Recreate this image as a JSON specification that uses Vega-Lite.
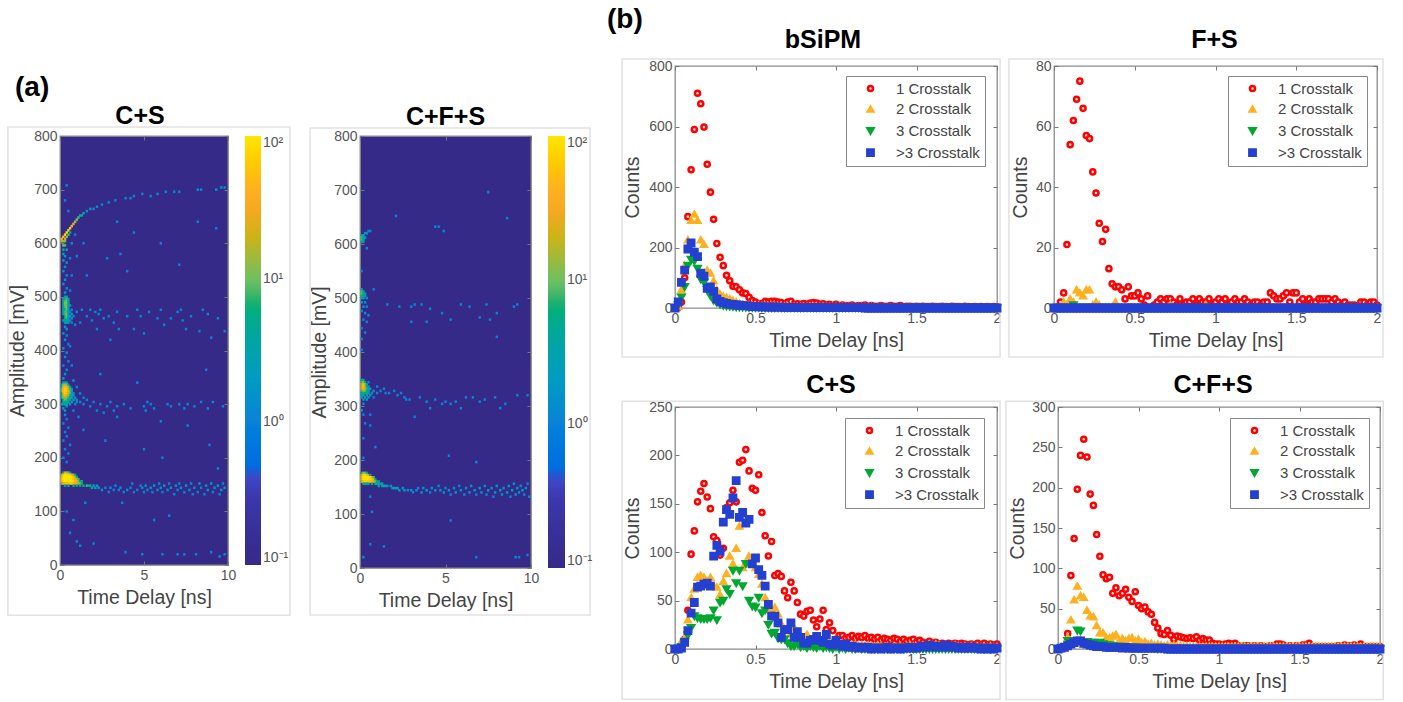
{"$schema":"https://vega.github.io/schema/vega-lite/v6.json","background":"white","padding":{"left":6,"top":6,"right":0,"bottom":0},
"config":{"font":"Liberation Sans","view":{"stroke":"#8a8a8a","strokeWidth":1.3},"axis":{"grid":false,"domain":false,"labelFlush":false,"tickColor":"#777","tickSize":-4,"labelFont":"Liberation Sans","labelFontSize":14,"labelColor":"#555","labelPadding":7,"titleFont":"Liberation Sans","titleFontSize":19.5,"titleFontWeight":"normal","titleColor":"#444","titlePadding":6},"title":{"font":"Liberation Sans","fontSize":25,"fontWeight":"bold","color":"#000"},"legend":{"labelFont":"Liberation Sans","labelFontSize":15,"labelColor":"#444","symbolStrokeWidth":2.5}},
"datasets":{
"a1":[
{"t":0.2,"a":172,"n":5},{"t":0.3,"a":172,"n":20},{"t":0.4,"a":172,"n":20},{"t":0.5,"a":172,"n":10},{"t":0.6,"a":172,"n":3},
{"t":0.1,"a":168,"n":10},{"t":0.2,"a":168,"n":60},{"t":0.3,"a":168,"n":90},{"t":0.4,"a":168,"n":90},{"t":0.5,"a":168,"n":80},{"t":0.6,"a":168,"n":60},{"t":0.7,"a":168,"n":40},{"t":0.8,"a":168,"n":15},{"t":0.9,"a":168,"n":5},
{"t":0.1,"a":164,"n":30},{"t":0.2,"a":164,"n":90},{"t":0.3,"a":164,"n":100},{"t":0.4,"a":164,"n":100},{"t":0.5,"a":164,"n":100},{"t":0.6,"a":164,"n":100},{"t":0.7,"a":164,"n":90},{"t":0.8,"a":164,"n":50},{"t":0.9,"a":164,"n":20},{"t":1.0,"a":164,"n":6},
{"t":0.1,"a":160,"n":40},{"t":0.2,"a":160,"n":90},{"t":0.3,"a":160,"n":100},{"t":0.4,"a":160,"n":100},{"t":0.5,"a":160,"n":100},{"t":0.6,"a":160,"n":100},{"t":0.7,"a":160,"n":90},{"t":0.8,"a":160,"n":70},{"t":0.9,"a":160,"n":40},{"t":1.0,"a":160,"n":20},{"t":1.1,"a":160,"n":8},
{"t":0.1,"a":156,"n":30},{"t":0.2,"a":156,"n":80},{"t":0.3,"a":156,"n":100},{"t":0.4,"a":156,"n":100},{"t":0.5,"a":156,"n":100},{"t":0.6,"a":156,"n":100},{"t":0.7,"a":156,"n":90},{"t":0.8,"a":156,"n":80},{"t":0.9,"a":156,"n":50},{"t":1.0,"a":156,"n":30},{"t":1.1,"a":156,"n":15},{"t":1.2,"a":156,"n":6},{"t":1.3,"a":156,"n":3},
{"t":0.1,"a":152,"n":10},{"t":0.2,"a":152,"n":30},{"t":0.3,"a":152,"n":40},{"t":0.4,"a":152,"n":50},{"t":0.5,"a":152,"n":50},{"t":0.6,"a":152,"n":60},{"t":0.7,"a":152,"n":60},{"t":0.8,"a":152,"n":50},{"t":0.9,"a":152,"n":30},{"t":1.0,"a":152,"n":25},{"t":1.1,"a":152,"n":15},{"t":1.2,"a":152,"n":10},{"t":1.3,"a":152,"n":6},
{"t":0.3,"a":148,"n":5},{"t":0.5,"a":148,"n":5},{"t":0.8,"a":148,"n":5},{"t":1.0,"a":148,"n":6},{"t":1.2,"a":148,"n":6},{"t":1.4,"a":148,"n":5},{"t":1.6,"a":148,"n":8},{"t":1.7,"a":148,"n":6},{"t":1.8,"a":148,"n":5},{"t":2.0,"a":148,"n":3},{"t":1.9,"a":144,"n":4},{"t":2.1,"a":144,"n":3},{"t":2.3,"a":144,"n":2},{"t":2.2,"a":148,"n":2},
{"t":2.5,"a":140,"n":1.5},{"t":2.7,"a":144,"n":1},{"t":2.9,"a":136,"n":1},{"t":3.0,"a":144,"n":1.5},{"t":3.2,"a":140,"n":1.2},{"t":3.3,"a":148,"n":1},{"t":3.5,"a":140,"n":1},{"t":3.6,"a":144,"n":1.5},{"t":3.8,"a":136,"n":1},{"t":4.0,"a":140,"n":1.5},{"t":4.2,"a":144,"n":1},{"t":4.3,"a":152,"n":1},{"t":4.4,"a":136,"n":1},{"t":4.6,"a":140,"n":1},{"t":4.8,"a":148,"n":1},{"t":4.9,"a":144,"n":1.5},{"t":5.0,"a":136,"n":1},{"t":5.1,"a":148,"n":1.5},{"t":5.2,"a":140,"n":1},{"t":5.4,"a":144,"n":1.5},{"t":5.5,"a":136,"n":1},{"t":5.6,"a":148,"n":1.5},{"t":5.8,"a":140,"n":1.5},{"t":5.9,"a":152,"n":1},{"t":6.0,"a":144,"n":1.5},{"t":6.1,"a":136,"n":1},{"t":6.2,"a":148,"n":1.5},{"t":6.4,"a":140,"n":1.5},{"t":6.5,"a":152,"n":1},{"t":6.6,"a":144,"n":1.5},{"t":6.8,"a":132,"n":1},{"t":6.9,"a":148,"n":1.5},{"t":7.0,"a":140,"n":1},{"t":7.1,"a":152,"n":1},{"t":7.2,"a":144,"n":1.5},{"t":7.4,"a":136,"n":1},{"t":7.5,"a":148,"n":1.5},{"t":7.7,"a":140,"n":1.5},{"t":7.8,"a":152,"n":1},{"t":7.9,"a":132,"n":1},{"t":8.0,"a":144,"n":1.5},{"t":8.2,"a":136,"n":1},{"t":8.3,"a":152,"n":1.5},{"t":8.4,"a":144,"n":1},{"t":8.6,"a":132,"n":1},{"t":8.7,"a":148,"n":1.5},{"t":8.8,"a":140,"n":1.5},{"t":9.0,"a":152,"n":1.5},{"t":9.1,"a":136,"n":1},{"t":9.2,"a":144,"n":1.5},{"t":9.4,"a":148,"n":1.5},{"t":9.5,"a":132,"n":1},{"t":9.6,"a":140,"n":1.5},{"t":9.7,"a":152,"n":1},{"t":9.8,"a":144,"n":1.5},
{"t":0.2,"a":340,"n":2},{"t":0.3,"a":340,"n":4},{"t":0.4,"a":340,"n":3},{"t":0.1,"a":336,"n":3},{"t":0.2,"a":336,"n":10},{"t":0.3,"a":336,"n":15},{"t":0.4,"a":336,"n":12},{"t":0.5,"a":336,"n":4},
{"t":0.1,"a":332,"n":5},{"t":0.2,"a":332,"n":30},{"t":0.3,"a":332,"n":45},{"t":0.4,"a":332,"n":40},{"t":0.5,"a":332,"n":15},{"t":0.6,"a":332,"n":4},{"t":0.1,"a":328,"n":8},{"t":0.2,"a":328,"n":40},{"t":0.3,"a":328,"n":70},{"t":0.4,"a":328,"n":60},{"t":0.5,"a":328,"n":30},{"t":0.6,"a":328,"n":8},{"t":0.7,"a":328,"n":3},
{"t":0.1,"a":324,"n":8},{"t":0.2,"a":324,"n":50},{"t":0.3,"a":324,"n":80},{"t":0.4,"a":324,"n":70},{"t":0.5,"a":324,"n":35},{"t":0.6,"a":324,"n":10},{"t":0.7,"a":324,"n":4},{"t":0.1,"a":320,"n":6},{"t":0.2,"a":320,"n":40},{"t":0.3,"a":320,"n":70},{"t":0.4,"a":320,"n":60},{"t":0.5,"a":320,"n":25},{"t":0.6,"a":320,"n":10},{"t":0.7,"a":320,"n":4},{"t":0.8,"a":320,"n":2},
{"t":0.1,"a":316,"n":5},{"t":0.2,"a":316,"n":25},{"t":0.3,"a":316,"n":40},{"t":0.4,"a":316,"n":30},{"t":0.5,"a":316,"n":15},{"t":0.6,"a":316,"n":7},{"t":0.7,"a":316,"n":4},{"t":0.8,"a":316,"n":2},{"t":0.1,"a":312,"n":3},{"t":0.2,"a":312,"n":12},{"t":0.3,"a":312,"n":15},{"t":0.4,"a":312,"n":14},{"t":0.5,"a":312,"n":8},{"t":0.6,"a":312,"n":5},{"t":0.7,"a":312,"n":3},{"t":0.9,"a":312,"n":1.5},
{"t":0.2,"a":308,"n":6},{"t":0.3,"a":308,"n":10},{"t":0.4,"a":308,"n":8},{"t":0.5,"a":308,"n":5},{"t":0.6,"a":308,"n":4},{"t":0.8,"a":308,"n":2},{"t":1.0,"a":308,"n":1.5},{"t":0.2,"a":304,"n":4},{"t":0.3,"a":304,"n":5},{"t":0.4,"a":304,"n":6},{"t":0.5,"a":304,"n":3},{"t":0.7,"a":304,"n":2},{"t":1.0,"a":304,"n":1.2},{"t":1.2,"a":304,"n":1},{"t":0.1,"a":300,"n":1.5},{"t":0.2,"a":300,"n":3},{"t":0.3,"a":300,"n":4},{"t":0.4,"a":300,"n":4},{"t":0.6,"a":300,"n":1.5},{"t":0.9,"a":300,"n":1},{"t":1.4,"a":300,"n":1},
{"t":0.2,"a":292,"n":2},{"t":0.3,"a":288,"n":2},{"t":0.4,"a":296,"n":2},{"t":0.3,"a":280,"n":1.5},{"t":0.4,"a":272,"n":1},{"t":0.2,"a":264,"n":1},{"t":0.5,"a":256,"n":1},{"t":0.3,"a":248,"n":1},{"t":0.4,"a":240,"n":1},{"t":0.2,"a":232,"n":1},{"t":0.6,"a":224,"n":1},{"t":0.3,"a":216,"n":1},{"t":0.5,"a":208,"n":1},{"t":0.2,"a":200,"n":1},{"t":0.4,"a":192,"n":1},
{"t":1.6,"a":308,"n":1},{"t":1.8,"a":296,"n":1},{"t":2.0,"a":304,"n":1},{"t":2.2,"a":288,"n":1},{"t":2.4,"a":300,"n":1},{"t":2.6,"a":284,"n":1},{"t":2.8,"a":296,"n":1},{"t":3.0,"a":304,"n":1},{"t":3.2,"a":288,"n":1},{"t":3.4,"a":296,"n":1},{"t":3.8,"a":300,"n":1.2},{"t":4.2,"a":292,"n":1},{"t":5.0,"a":296,"n":1.2},{"t":5.1,"a":288,"n":1},{"t":5.2,"a":304,"n":1},{"t":5.4,"a":300,"n":1.2},{"t":5.6,"a":292,"n":1},{"t":6.4,"a":300,"n":1},{"t":6.6,"a":296,"n":1},{"t":7.1,"a":300,"n":1},{"t":7.4,"a":292,"n":1},{"t":7.6,"a":300,"n":1},{"t":8.0,"a":296,"n":1},{"t":8.4,"a":304,"n":1},{"t":8.8,"a":292,"n":1},{"t":9.1,"a":304,"n":1},{"t":9.7,"a":296,"n":1},
{"t":0.3,"a":500,"n":3},{"t":0.4,"a":500,"n":4},{"t":0.2,"a":496,"n":2},{"t":0.3,"a":496,"n":6},{"t":0.4,"a":496,"n":8},{"t":0.5,"a":496,"n":3},{"t":0.2,"a":492,"n":4},{"t":0.3,"a":492,"n":8},{"t":0.4,"a":492,"n":10},{"t":0.5,"a":492,"n":4},{"t":0.2,"a":488,"n":5},{"t":0.3,"a":488,"n":10},{"t":0.4,"a":488,"n":12},{"t":0.5,"a":488,"n":4},{"t":0.2,"a":484,"n":4},{"t":0.3,"a":484,"n":10},{"t":0.4,"a":484,"n":10},{"t":0.5,"a":484,"n":5},{"t":0.6,"a":484,"n":1.5},{"t":0.2,"a":480,"n":4},{"t":0.3,"a":480,"n":8},{"t":0.4,"a":480,"n":12},{"t":0.5,"a":480,"n":4},{"t":0.2,"a":476,"n":3},{"t":0.3,"a":476,"n":6},{"t":0.4,"a":476,"n":10},{"t":0.5,"a":476,"n":3},{"t":0.7,"a":476,"n":1},{"t":0.2,"a":472,"n":4},{"t":0.3,"a":472,"n":8},{"t":0.4,"a":472,"n":8},{"t":0.5,"a":472,"n":4},{"t":0.6,"a":472,"n":1.2},{"t":0.2,"a":468,"n":4},{"t":0.3,"a":468,"n":8},{"t":0.4,"a":468,"n":10},{"t":0.5,"a":468,"n":3},{"t":0.7,"a":468,"n":1.5},{"t":0.3,"a":464,"n":6},{"t":0.4,"a":464,"n":10},{"t":0.5,"a":464,"n":3},{"t":0.6,"a":464,"n":2},{"t":0.8,"a":464,"n":1},{"t":0.3,"a":460,"n":6},{"t":0.4,"a":460,"n":8},{"t":0.5,"a":460,"n":3},{"t":0.7,"a":460,"n":1.5},{"t":0.2,"a":456,"n":2},{"t":0.3,"a":456,"n":5},{"t":0.4,"a":456,"n":6},{"t":0.5,"a":456,"n":3},{"t":0.6,"a":456,"n":1.5},{"t":0.3,"a":452,"n":3},{"t":0.4,"a":452,"n":4},{"t":0.5,"a":452,"n":2},{"t":0.7,"a":452,"n":1},{"t":0.3,"a":444,"n":2},{"t":0.4,"a":440,"n":2},{"t":0.2,"a":432,"n":1.5},{"t":0.4,"a":428,"n":1.5},{"t":0.3,"a":420,"n":1.5},{"t":0.5,"a":412,"n":1},{"t":0.2,"a":404,"n":1.5},{"t":0.4,"a":396,"n":1.5},{"t":0.3,"a":388,"n":1.5},{"t":0.5,"a":380,"n":1},{"t":0.2,"a":372,"n":1},{"t":0.4,"a":364,"n":1.5},{"t":0.3,"a":356,"n":2},{"t":0.2,"a":348,"n":2},
{"t":1.0,"a":472,"n":1},{"t":1.3,"a":476,"n":1},{"t":1.6,"a":464,"n":1},{"t":1.9,"a":456,"n":1},{"t":2.1,"a":472,"n":1},{"t":2.3,"a":468,"n":1},{"t":2.6,"a":460,"n":1},{"t":2.9,"a":464,"n":1},{"t":3.2,"a":452,"n":1},{"t":3.4,"a":472,"n":1},{"t":4.0,"a":464,"n":1},{"t":4.4,"a":440,"n":1},{"t":4.8,"a":464,"n":1},{"t":5.3,"a":472,"n":1},{"t":5.8,"a":460,"n":1},{"t":6.2,"a":448,"n":1},{"t":6.6,"a":460,"n":1},{"t":7.0,"a":472,"n":1},{"t":7.3,"a":456,"n":1},{"t":7.8,"a":464,"n":1},{"t":8.3,"a":436,"n":1},{"t":8.8,"a":468,"n":1},{"t":9.4,"a":460,"n":1},{"t":9.8,"a":436,"n":1},
{"t":0.2,"a":596,"n":10},{"t":0.3,"a":596,"n":8},{"t":0.2,"a":588,"n":5},{"t":0.4,"a":588,"n":3},{"t":0.2,"a":580,"n":3},{"t":0.3,"a":576,"n":2},{"t":0.2,"a":568,"n":2},{"t":0.4,"a":564,"n":2},{"t":0.3,"a":556,"n":1.5},{"t":0.2,"a":548,"n":1.5},{"t":0.4,"a":540,"n":1.5},{"t":0.3,"a":532,"n":1.5},{"t":0.2,"a":524,"n":1.5},{"t":0.4,"a":516,"n":1.5},{"t":0.3,"a":508,"n":2},{"t":1.0,"a":576,"n":1},{"t":1.4,"a":600,"n":1},{"t":1.6,"a":540,"n":1},{"t":2.8,"a":572,"n":1},{"t":3.6,"a":580,"n":1},{"t":4.0,"a":548,"n":1},{"t":4.4,"a":620,"n":1},{"t":6.0,"a":600,"n":1},{"t":7.1,"a":560,"n":1},{"t":8.2,"a":640,"n":1},{"t":9.3,"a":628,"n":1},{"t":3.4,"a":640,"n":1},{"t":0.3,"a":680,"n":1},{"t":0.4,"a":708,"n":1},{"t":0.5,"a":660,"n":1},
{"t":0.1,"a":608,"n":40},{"t":0.2,"a":612,"n":60},{"t":0.1,"a":604,"n":15},{"t":0.2,"a":604,"n":15},{"t":0.3,"a":604,"n":10},{"t":0.3,"a":616,"n":80},{"t":0.4,"a":620,"n":90},{"t":0.5,"a":624,"n":80},{"t":0.6,"a":628,"n":70},{"t":0.3,"a":608,"n":20},{"t":0.4,"a":612,"n":12},{"t":0.5,"a":616,"n":8},{"t":0.7,"a":632,"n":40},{"t":0.8,"a":636,"n":25},{"t":0.6,"a":620,"n":5},{"t":0.9,"a":640,"n":15},{"t":1.0,"a":644,"n":10},{"t":1.1,"a":648,"n":8},{"t":1.2,"a":652,"n":5},{"t":1.3,"a":652,"n":4},{"t":1.4,"a":656,"n":3},{"t":1.6,"a":660,"n":2},{"t":1.8,"a":664,"n":2},{"t":2.0,"a":664,"n":1.5},{"t":2.2,"a":668,"n":1.5},{"t":2.5,"a":672,"n":1},{"t":2.9,"a":676,"n":1.2},{"t":3.3,"a":680,"n":1},{"t":3.9,"a":684,"n":1},{"t":4.2,"a":684,"n":1},{"t":4.4,"a":688,"n":1},{"t":4.9,"a":692,"n":1.2},{"t":5.4,"a":688,"n":1},{"t":5.8,"a":692,"n":1.2},{"t":6.3,"a":696,"n":1.2},{"t":6.8,"a":696,"n":1},{"t":7.1,"a":696,"n":1},{"t":8.2,"a":700,"n":1.5},{"t":8.4,"a":700,"n":1.2},{"t":9.3,"a":700,"n":1.5},{"t":9.6,"a":704,"n":1.5},{"t":9.8,"a":704,"n":1.2},
{"t":0.6,"a":60,"n":1},{"t":0.8,"a":84,"n":1},{"t":1.0,"a":44,"n":1},{"t":1.2,"a":36,"n":1},{"t":0.4,"a":100,"n":1},{"t":2.0,"a":40,"n":1},{"t":3.9,"a":24,"n":1},{"t":4.9,"a":20,"n":1},{"t":6.1,"a":20,"n":1},{"t":7.0,"a":20,"n":1},{"t":7.4,"a":20,"n":1},{"t":8.1,"a":20,"n":1},{"t":9.0,"a":24,"n":1},{"t":9.5,"a":16,"n":1},{"t":9.8,"a":20,"n":1},{"t":5.6,"a":84,"n":1},{"t":6.5,"a":92,"n":1},{"t":1.5,"a":116,"n":1},{"t":3.7,"a":116,"n":1},{"t":5.0,"a":216,"n":1},{"t":6.1,"a":200,"n":1},{"t":8.9,"a":224,"n":1},
{"t":0.6,"a":512,"n":1},{"t":0.7,"a":540,"n":1},{"t":0.6,"a":572,"n":1},{"t":0.7,"a":600,"n":1.5},{"t":0.9,"a":616,"n":1},{"t":0.6,"a":408,"n":1},{"t":0.7,"a":372,"n":1},{"t":0.8,"a":344,"n":1.5},{"t":1.0,"a":332,"n":1},{"t":1.2,"a":320,"n":1.2},{"t":1.4,"a":312,"n":1},{"t":0.8,"a":288,"n":1},{"t":1.1,"a":276,"n":1},{"t":1.4,"a":252,"n":1},{"t":0.9,"a":448,"n":1},{"t":1.2,"a":452,"n":1},{"t":1.8,"a":476,"n":1},{"t":2.2,"a":440,"n":1},{"t":2.4,"a":476,"n":1},{"t":3.0,"a":420,"n":1},{"t":3.5,"a":440,"n":1},{"t":4.6,"a":476,"n":1},{"t":5.0,"a":432,"n":1},{"t":6.0,"a":476,"n":1},{"t":7.2,"a":476,"n":1},{"t":7.5,"a":440,"n":1},{"t":8.5,"a":476,"n":1},{"t":9.0,"a":424,"n":1},{"t":2.4,"a":356,"n":1},{"t":4.6,"a":340,"n":1},{"t":8.7,"a":364,"n":1},{"t":6.0,"a":268,"n":1},{"t":7.6,"a":260,"n":1},{"t":3.4,"a":276,"n":1},{"t":2.7,"a":232,"n":1},{"t":9.4,"a":180,"n":1}
],
"a2":[
{"t":0.1,"a":176,"n":5},{"t":0.2,"a":176,"n":12},{"t":0.3,"a":176,"n":10},{"t":0.4,"a":176,"n":4},
{"t":0.1,"a":172,"n":15},{"t":0.2,"a":172,"n":70},{"t":0.3,"a":172,"n":80},{"t":0.4,"a":172,"n":60},{"t":0.5,"a":172,"n":25},{"t":0.6,"a":172,"n":6},
{"t":0.1,"a":168,"n":30},{"t":0.2,"a":168,"n":100},{"t":0.3,"a":168,"n":100},{"t":0.4,"a":168,"n":100},{"t":0.5,"a":168,"n":90},{"t":0.6,"a":168,"n":80},{"t":0.7,"a":168,"n":40},{"t":0.8,"a":168,"n":8},
{"t":0.1,"a":164,"n":30},{"t":0.2,"a":164,"n":100},{"t":0.3,"a":164,"n":100},{"t":0.4,"a":164,"n":100},{"t":0.5,"a":164,"n":100},{"t":0.6,"a":164,"n":90},{"t":0.7,"a":164,"n":70},{"t":0.8,"a":164,"n":30},{"t":0.9,"a":164,"n":6},
{"t":0.1,"a":160,"n":20},{"t":0.2,"a":160,"n":60},{"t":0.3,"a":160,"n":80},{"t":0.4,"a":160,"n":70},{"t":0.5,"a":160,"n":70},{"t":0.6,"a":160,"n":60},{"t":0.7,"a":160,"n":40},{"t":0.8,"a":160,"n":25},{"t":0.9,"a":160,"n":12},{"t":1.0,"a":160,"n":5},{"t":1.1,"a":160,"n":3},
{"t":0.2,"a":156,"n":6},{"t":0.3,"a":156,"n":6},{"t":0.4,"a":156,"n":5},{"t":0.5,"a":156,"n":5},{"t":0.7,"a":156,"n":5},{"t":0.9,"a":156,"n":6},{"t":1.0,"a":156,"n":6},{"t":1.1,"a":156,"n":5},{"t":1.2,"a":156,"n":4},{"t":1.3,"a":156,"n":3},
{"t":1.1,"a":152,"n":3},{"t":1.3,"a":152,"n":4},{"t":1.4,"a":152,"n":4},{"t":1.5,"a":152,"n":3},{"t":1.6,"a":152,"n":2},{"t":1.8,"a":152,"n":2},{"t":1.9,"a":148,"n":3},{"t":2.0,"a":148,"n":3},{"t":2.1,"a":148,"n":3},{"t":2.2,"a":148,"n":2},{"t":2.3,"a":144,"n":2},{"t":2.5,"a":148,"n":1.5},{"t":2.6,"a":144,"n":2},{"t":2.8,"a":144,"n":1.5},{"t":3.0,"a":144,"n":2},{"t":3.1,"a":140,"n":1},{"t":3.3,"a":144,"n":1.5},{"t":3.4,"a":148,"n":1},{"t":3.6,"a":140,"n":1.5},{"t":3.7,"a":148,"n":1.5},{"t":3.9,"a":144,"n":2},{"t":4.1,"a":140,"n":1},{"t":4.2,"a":148,"n":1.5},{"t":4.4,"a":144,"n":1.5},{"t":4.6,"a":152,"n":1},{"t":4.7,"a":144,"n":1.5},{"t":4.9,"a":140,"n":1.5},{"t":5.0,"a":148,"n":1},{"t":5.2,"a":144,"n":1.5},{"t":5.3,"a":136,"n":1},{"t":5.5,"a":148,"n":1.5},{"t":5.6,"a":140,"n":1.5},{"t":5.8,"a":152,"n":1},{"t":5.9,"a":144,"n":1.5},{"t":6.1,"a":136,"n":1},{"t":6.2,"a":148,"n":1.5},{"t":6.4,"a":140,"n":1.5},{"t":6.5,"a":152,"n":1.5},{"t":6.7,"a":144,"n":1.5},{"t":6.8,"a":136,"n":1},{"t":7.0,"a":148,"n":2},{"t":7.1,"a":140,"n":1.5},{"t":7.3,"a":152,"n":1},{"t":7.4,"a":136,"n":1},{"t":7.5,"a":144,"n":2},{"t":7.7,"a":148,"n":1.5},{"t":7.8,"a":132,"n":1},{"t":7.9,"a":140,"n":1.5},{"t":8.0,"a":152,"n":1.5},{"t":8.2,"a":144,"n":2},{"t":8.3,"a":136,"n":1.5},{"t":8.4,"a":148,"n":1.5},{"t":8.6,"a":140,"n":2},{"t":8.7,"a":152,"n":1.5},{"t":8.8,"a":132,"n":1},{"t":8.9,"a":144,"n":2},{"t":9.0,"a":156,"n":1.5},{"t":9.1,"a":136,"n":1.5},{"t":9.2,"a":148,"n":2},{"t":9.3,"a":140,"n":1.5},{"t":9.4,"a":152,"n":1.5},{"t":9.5,"a":144,"n":2},{"t":9.6,"a":136,"n":1},{"t":9.7,"a":148,"n":1.5},{"t":9.8,"a":156,"n":1},{"t":9.9,"a":132,"n":1},
{"t":0.1,"a":348,"n":3},{"t":0.2,"a":348,"n":5},{"t":0.1,"a":344,"n":8},{"t":0.2,"a":344,"n":15},{"t":0.3,"a":344,"n":6},{"t":0.1,"a":340,"n":15},{"t":0.2,"a":340,"n":50},{"t":0.3,"a":340,"n":20},{"t":0.4,"a":340,"n":4},{"t":0.1,"a":336,"n":20},{"t":0.2,"a":336,"n":60},{"t":0.3,"a":336,"n":25},{"t":0.4,"a":336,"n":6},{"t":0.5,"a":336,"n":2},{"t":0.1,"a":332,"n":20},{"t":0.2,"a":332,"n":50},{"t":0.3,"a":332,"n":20},{"t":0.4,"a":332,"n":8},{"t":0.5,"a":332,"n":3},{"t":0.6,"a":332,"n":2},{"t":0.1,"a":328,"n":8},{"t":0.2,"a":328,"n":15},{"t":0.3,"a":328,"n":12},{"t":0.4,"a":328,"n":6},{"t":0.5,"a":328,"n":3},{"t":0.8,"a":328,"n":1.5},{"t":0.1,"a":324,"n":4},{"t":0.2,"a":324,"n":6},{"t":0.3,"a":324,"n":6},{"t":0.4,"a":324,"n":5},{"t":0.5,"a":324,"n":3},{"t":0.7,"a":324,"n":1.5},{"t":1.0,"a":324,"n":1},{"t":0.1,"a":320,"n":2},{"t":0.2,"a":320,"n":4},{"t":0.4,"a":320,"n":4},{"t":0.6,"a":320,"n":2},{"t":0.1,"a":316,"n":2},{"t":0.3,"a":316,"n":3},{"t":0.5,"a":316,"n":2},{"t":0.8,"a":316,"n":1},{"t":0.2,"a":312,"n":2},{"t":0.4,"a":312,"n":2},{"t":0.2,"a":304,"n":1.5},{"t":0.1,"a":292,"n":1.5},{"t":0.2,"a":284,"n":1},{"t":0.6,"a":284,"n":1},{"t":0.3,"a":268,"n":1},{"t":0.6,"a":264,"n":1},{"t":0.2,"a":240,"n":1},{"t":0.9,"a":224,"n":1},{"t":0.2,"a":204,"n":1},
{"t":0.5,"a":344,"n":1},{"t":1.0,"a":336,"n":1},{"t":1.2,"a":328,"n":1},{"t":1.4,"a":332,"n":1},{"t":1.5,"a":324,"n":1},{"t":1.7,"a":324,"n":1},{"t":2.0,"a":328,"n":1},{"t":2.2,"a":320,"n":1},{"t":2.4,"a":324,"n":1},{"t":2.6,"a":316,"n":1},{"t":2.7,"a":312,"n":1},{"t":2.9,"a":312,"n":1},{"t":3.2,"a":280,"n":1},{"t":3.5,"a":316,"n":1},{"t":3.9,"a":308,"n":1},{"t":4.1,"a":296,"n":1},{"t":4.4,"a":312,"n":1},{"t":4.8,"a":304,"n":1},{"t":5.0,"a":308,"n":1},{"t":5.3,"a":304,"n":1},{"t":5.6,"a":308,"n":1},{"t":5.9,"a":296,"n":1},{"t":6.2,"a":316,"n":1},{"t":6.6,"a":316,"n":1},{"t":7.0,"a":308,"n":1},{"t":7.3,"a":312,"n":1},{"t":7.9,"a":316,"n":1},{"t":8.2,"a":296,"n":1},{"t":8.5,"a":304,"n":1},{"t":9.2,"a":320,"n":1},{"t":9.8,"a":320,"n":1},
{"t":0.1,"a":516,"n":4},{"t":0.1,"a":512,"n":8},{"t":0.2,"a":512,"n":4},{"t":0.1,"a":508,"n":10},{"t":0.2,"a":508,"n":6},{"t":0.3,"a":508,"n":2},{"t":0.1,"a":504,"n":6},{"t":0.2,"a":504,"n":4},{"t":0.3,"a":504,"n":2},{"t":0.1,"a":500,"n":3},{"t":0.2,"a":500,"n":3},{"t":0.4,"a":500,"n":1.5},{"t":0.1,"a":492,"n":2},{"t":0.3,"a":492,"n":1.5},{"t":0.2,"a":484,"n":1.5},{"t":0.4,"a":484,"n":1},{"t":0.1,"a":476,"n":1.5},{"t":0.3,"a":472,"n":1.5},{"t":0.5,"a":468,"n":1},{"t":0.2,"a":460,"n":1},{"t":0.4,"a":456,"n":1},{"t":0.1,"a":444,"n":1},{"t":0.3,"a":436,"n":1},{"t":0.1,"a":424,"n":1},{"t":0.1,"a":404,"n":1},{"t":0.8,"a":516,"n":1},
{"t":1.6,"a":488,"n":1},{"t":2.3,"a":484,"n":1},{"t":3.0,"a":484,"n":1},{"t":3.2,"a":488,"n":1},{"t":3.6,"a":488,"n":1},{"t":4.1,"a":480,"n":1},{"t":3.0,"a":456,"n":1},{"t":3.9,"a":456,"n":1},{"t":4.8,"a":472,"n":1},{"t":5.3,"a":460,"n":1},{"t":5.9,"a":488,"n":1},{"t":6.4,"a":484,"n":1},{"t":7.0,"a":464,"n":1},{"t":7.4,"a":488,"n":1},{"t":7.6,"a":460,"n":1},{"t":8.0,"a":472,"n":1},{"t":9.0,"a":484,"n":1},{"t":9.2,"a":488,"n":1},{"t":8.0,"a":428,"n":1},
{"t":0.1,"a":616,"n":4},{"t":0.2,"a":616,"n":3},{"t":0.1,"a":612,"n":8},{"t":0.2,"a":612,"n":4},{"t":0.3,"a":612,"n":2},{"t":0.1,"a":608,"n":8},{"t":0.2,"a":608,"n":4},{"t":0.1,"a":604,"n":4},{"t":0.2,"a":604,"n":2},{"t":0.3,"a":620,"n":2},{"t":0.4,"a":620,"n":1.5},{"t":0.5,"a":624,"n":1.5},{"t":0.6,"a":624,"n":1},{"t":0.4,"a":592,"n":1},{"t":0.1,"a":550,"n":1},
{"t":2.1,"a":652,"n":1},{"t":4.4,"a":632,"n":1},{"t":4.6,"a":632,"n":1},{"t":4.9,"a":624,"n":1},{"t":7.5,"a":696,"n":1},{"t":8.6,"a":648,"n":1},
{"t":0.2,"a":20,"n":1.5},{"t":0.6,"a":44,"n":1},{"t":1.4,"a":40,"n":1},{"t":6.8,"a":20,"n":1},{"t":9.1,"a":20,"n":1},{"t":9.3,"a":20,"n":1},{"t":9.8,"a":24,"n":1},{"t":5.3,"a":88,"n":1},{"t":0.7,"a":104,"n":1},{"t":5.2,"a":208,"n":1},{"t":6.8,"a":196,"n":1},{"t":0.6,"a":132,"n":1}
],
"b1":[
{"t":0,"c1":0,"c2":0,"c3":0,"c4":0},{"t":0.02,"c1":2,"c2":5,"c3":10,"c4":20},{"t":0.04,"c1":20,"c2":60,"c3":35,"c4":85},{"t":0.06,"c1":100,"c2":140,"c3":70,"c4":125},{"t":0.08,"c1":302,"c2":225,"c3":140,"c4":195},{"t":0.1,"c1":457,"c2":290,"c3":160,"c4":215},{"t":0.12,"c1":590,"c2":310,"c3":155,"c4":185},{"t":0.14,"c1":710,"c2":290,"c3":130,"c4":170},{"t":0.16,"c1":675,"c2":225,"c3":95,"c4":115},{"t":0.18,"c1":598,"c2":210,"c3":85,"c4":105},{"t":0.2,"c1":475,"c2":125,"c3":60,"c4":65},{"t":0.22,"c1":383,"c2":115,"c3":40,"c4":70},{"t":0.24,"c1":293,"c2":90,"c3":25,"c4":55},{"t":0.26,"c1":213,"c2":60,"c3":18,"c4":30},{"t":0.28,"c1":168,"c2":45,"c3":12,"c4":22},{"t":0.3,"c1":140,"c2":38,"c3":8,"c4":18},{"t":0.32,"c1":108,"c2":35,"c3":6,"c4":15},{"t":0.34,"c1":90,"c2":30,"c3":5,"c4":13},{"t":0.36,"c1":72,"c2":25,"c3":4,"c4":12},{"t":0.38,"c1":70,"c2":20,"c3":3,"c4":10},{"t":0.4,"c1":60,"c2":15,"c3":3,"c4":9},{"t":0.42,"c1":50,"c2":13,"c3":2,"c4":8},{"t":0.44,"c1":48,"c2":11,"c3":2,"c4":8},{"t":0.46,"c1":35,"c2":10,"c3":1,"c4":6},{"t":0.48,"c1":25,"c2":9,"c3":1,"c4":5},{"t":0.5,"c1":20,"c2":8,"c3":1,"c4":5},{"t":0.52,"c1":12,"c2":8,"c3":1,"c4":4},{"t":0.54,"c1":15,"c2":7,"c3":0,"c4":4},{"t":0.56,"c1":22,"c2":7,"c3":0,"c4":4},{"t":0.58,"c1":20,"c2":6,"c3":0,"c4":3},{"t":0.6,"c1":22,"c2":6,"c3":0,"c4":3},{"t":0.62,"c1":22,"c2":6,"c3":0,"c4":3},{"t":0.64,"c1":20,"c2":5,"c3":0,"c4":3},{"t":0.66,"c1":18,"c2":5,"c3":0,"c4":3},{"t":0.68,"c1":12,"c2":5,"c3":0,"c4":2},{"t":0.7,"c1":20,"c2":5,"c3":0,"c4":2},{"t":0.72,"c1":22,"c2":5,"c3":0,"c4":2},{"t":0.74,"c1":12,"c2":4,"c3":0,"c4":2},{"t":0.76,"c1":14,"c2":4,"c3":0,"c4":2},{"t":0.78,"c1":12,"c2":4,"c3":0,"c4":2},{"t":0.8,"c1":15,"c2":4,"c3":0,"c4":2},{"t":0.82,"c1":12,"c2":4,"c3":0,"c4":2},{"t":0.84,"c1":16,"c2":4,"c3":0,"c4":2},{"t":0.86,"c1":18,"c2":4,"c3":0,"c4":2},{"t":0.88,"c1":16,"c2":4,"c3":0,"c4":1},{"t":0.9,"c1":12,"c2":4,"c3":0,"c4":1},{"t":0.92,"c1":14,"c2":4,"c3":0,"c4":1},{"t":0.94,"c1":10,"c2":3,"c3":0,"c4":1},{"t":0.96,"c1":12,"c2":3,"c3":0,"c4":1},{"t":0.98,"c1":8,"c2":3,"c3":0,"c4":1},{"t":1.0,"c1":12,"c2":3,"c3":0,"c4":1},{"t":1.02,"c1":8,"c2":3,"c3":0,"c4":1},{"t":1.04,"c1":10,"c2":3,"c3":0,"c4":1},{"t":1.06,"c1":8,"c2":3,"c3":0,"c4":1},{"t":1.08,"c1":8,"c2":3,"c3":0,"c4":1},{"t":1.1,"c1":10,"c2":3,"c3":0,"c4":1},{"t":1.12,"c1":6,"c2":3,"c3":0,"c4":1},{"t":1.14,"c1":8,"c2":3,"c3":0,"c4":1},{"t":1.16,"c1":8,"c2":3,"c3":0,"c4":1},{"t":1.18,"c1":10,"c2":3,"c3":0,"c4":0},{"t":1.2,"c1":6,"c2":3,"c3":0,"c4":0},{"t":1.22,"c1":8,"c2":3,"c3":0,"c4":0},{"t":1.24,"c1":6,"c2":3,"c3":0,"c4":0},{"t":1.26,"c1":6,"c2":3,"c3":0,"c4":0},{"t":1.28,"c1":8,"c2":3,"c3":0,"c4":0},{"t":1.3,"c1":6,"c2":3,"c3":0,"c4":0},{"t":1.32,"c1":6,"c2":3,"c3":0,"c4":0},{"t":1.34,"c1":8,"c2":2,"c3":0,"c4":0},{"t":1.36,"c1":6,"c2":2,"c3":0,"c4":0},{"t":1.38,"c1":6,"c2":2,"c3":0,"c4":0},{"t":1.4,"c1":8,"c2":2,"c3":0,"c4":0},{"t":1.42,"c1":5,"c2":2,"c3":0,"c4":0},{"t":1.44,"c1":6,"c2":2,"c3":0,"c4":0},{"t":1.46,"c1":6,"c2":2,"c3":0,"c4":0},{"t":1.48,"c1":5,"c2":2,"c3":0,"c4":0},{"t":1.5,"c1":6,"c2":2,"c3":0,"c4":0},{"t":1.52,"c1":5,"c2":2,"c3":0,"c4":0},{"t":1.54,"c1":6,"c2":2,"c3":0,"c4":0},{"t":1.56,"c1":5,"c2":2,"c3":0,"c4":0},{"t":1.58,"c1":5,"c2":2,"c3":0,"c4":0},{"t":1.6,"c1":6,"c2":2,"c3":0,"c4":0},{"t":1.62,"c1":5,"c2":2,"c3":0,"c4":0},{"t":1.64,"c1":5,"c2":2,"c3":0,"c4":0},{"t":1.66,"c1":6,"c2":2,"c3":0,"c4":0},{"t":1.68,"c1":5,"c2":2,"c3":0,"c4":0},{"t":1.7,"c1":4,"c2":2,"c3":0,"c4":0},{"t":1.72,"c1":6,"c2":2,"c3":0,"c4":0},{"t":1.74,"c1":5,"c2":2,"c3":0,"c4":0},{"t":1.76,"c1":5,"c2":2,"c3":0,"c4":0},{"t":1.78,"c1":4,"c2":2,"c3":0,"c4":0},{"t":1.8,"c1":6,"c2":2,"c3":0,"c4":0},{"t":1.82,"c1":5,"c2":2,"c3":0,"c4":0},{"t":1.84,"c1":4,"c2":2,"c3":0,"c4":0},{"t":1.86,"c1":5,"c2":2,"c3":0,"c4":0},{"t":1.88,"c1":4,"c2":2,"c3":0,"c4":0},{"t":1.9,"c1":5,"c2":2,"c3":0,"c4":0},{"t":1.92,"c1":4,"c2":2,"c3":0,"c4":0},{"t":1.94,"c1":5,"c2":2,"c3":0,"c4":0},{"t":1.96,"c1":4,"c2":2,"c3":0,"c4":0},{"t":1.98,"c1":5,"c2":2,"c3":0,"c4":0},{"t":2.0,"c1":4,"c2":2,"c3":0,"c4":0}
],
"b2":[
{"t":0,"c1":0,"c2":0,"c3":0,"c4":0},{"t":0.02,"c1":0,"c2":0,"c3":0,"c4":0},{"t":0.04,"c1":2,"c2":0,"c3":0,"c4":0},{"t":0.06,"c1":5,"c2":2,"c3":0,"c4":0},{"t":0.08,"c1":21,"c2":1,"c3":0,"c4":0},{"t":0.1,"c1":54,"c2":3,"c3":0,"c4":0},{"t":0.12,"c1":62,"c2":2,"c3":1,"c4":0},{"t":0.14,"c1":69,"c2":6,"c3":0,"c4":0},{"t":0.16,"c1":75,"c2":5,"c3":0,"c4":0},{"t":0.18,"c1":66,"c2":4,"c3":0,"c4":0},{"t":0.2,"c1":57,"c2":6,"c3":0,"c4":0},{"t":0.22,"c1":56,"c2":6,"c3":0,"c4":0},{"t":0.24,"c1":45,"c2":1,"c3":0,"c4":0},{"t":0.26,"c1":38,"c2":2,"c3":0,"c4":0},{"t":0.28,"c1":28,"c2":1,"c3":0,"c4":0},{"t":0.3,"c1":22,"c2":0,"c3":0,"c4":0},{"t":0.32,"c1":26,"c2":0,"c3":0,"c4":0},{"t":0.34,"c1":13,"c2":0,"c3":0,"c4":0},{"t":0.36,"c1":8,"c2":0,"c3":0,"c4":0},{"t":0.38,"c1":7,"c2":2,"c3":0,"c4":0},{"t":0.4,"c1":7,"c2":0,"c3":0,"c4":0},{"t":0.42,"c1":6,"c2":0,"c3":0,"c4":0},{"t":0.44,"c1":3,"c2":0,"c3":0,"c4":0},{"t":0.46,"c1":7,"c2":0,"c3":0,"c4":0},{"t":0.48,"c1":4,"c2":0,"c3":0,"c4":0},{"t":0.5,"c1":4,"c2":0,"c3":0,"c4":0},{"t":0.52,"c1":5,"c2":0,"c3":0,"c4":0},{"t":0.54,"c1":3,"c2":0,"c3":0,"c4":0},{"t":0.56,"c1":1,"c2":0,"c3":0,"c4":0},{"t":0.58,"c1":4,"c2":0,"c3":0,"c4":0},{"t":0.6,"c1":0,"c2":0,"c3":0,"c4":0},{"t":0.62,"c1":1,"c2":0,"c3":0,"c4":0},{"t":0.64,"c1":2,"c2":0,"c3":0,"c4":0},{"t":0.66,"c1":3,"c2":0,"c3":0,"c4":0},{"t":0.68,"c1":2,"c2":0,"c3":0,"c4":0},{"t":0.7,"c1":3,"c2":0,"c3":0,"c4":0},{"t":0.72,"c1":3,"c2":1,"c3":0,"c4":0},{"t":0.74,"c1":2,"c2":0,"c3":0,"c4":0},{"t":0.76,"c1":1,"c2":0,"c3":0,"c4":0},{"t":0.78,"c1":3,"c2":0,"c3":0,"c4":0},{"t":0.8,"c1":1,"c2":0,"c3":0,"c4":0},{"t":0.82,"c1":2,"c2":0,"c3":0,"c4":0},{"t":0.84,"c1":2,"c2":0,"c3":0,"c4":0},{"t":0.86,"c1":3,"c2":0,"c3":0,"c4":0},{"t":0.88,"c1":1,"c2":0,"c3":0,"c4":0},{"t":0.9,"c1":3,"c2":0,"c3":0,"c4":0},{"t":0.92,"c1":2,"c2":0,"c3":0,"c4":0},{"t":0.94,"c1":2,"c2":1,"c3":0,"c4":0},{"t":0.96,"c1":3,"c2":0,"c3":0,"c4":0},{"t":0.98,"c1":1,"c2":0,"c3":0,"c4":0},{"t":1.0,"c1":2,"c2":0,"c3":0,"c4":0},{"t":1.02,"c1":3,"c2":0,"c3":0,"c4":0},{"t":1.04,"c1":2,"c2":0,"c3":0,"c4":0},{"t":1.06,"c1":3,"c2":0,"c3":0,"c4":0},{"t":1.08,"c1":1,"c2":0,"c3":0,"c4":0},{"t":1.1,"c1":2,"c2":0,"c3":0,"c4":0},{"t":1.12,"c1":3,"c2":0,"c3":0,"c4":0},{"t":1.14,"c1":2,"c2":0,"c3":0,"c4":0},{"t":1.16,"c1":2,"c2":0,"c3":0,"c4":0},{"t":1.18,"c1":3,"c2":0,"c3":0,"c4":0},{"t":1.2,"c1":2,"c2":0,"c3":0,"c4":0},{"t":1.22,"c1":1,"c2":0,"c3":0,"c4":0},{"t":1.24,"c1":2,"c2":0,"c3":0,"c4":0},{"t":1.26,"c1":2,"c2":0,"c3":0,"c4":0},{"t":1.28,"c1":1,"c2":0,"c3":0,"c4":0},{"t":1.3,"c1":2,"c2":0,"c3":0,"c4":0},{"t":1.32,"c1":2,"c2":0,"c3":0,"c4":0},{"t":1.34,"c1":5,"c2":0,"c3":0,"c4":0},{"t":1.36,"c1":4,"c2":0,"c3":0,"c4":0},{"t":1.38,"c1":3,"c2":0,"c3":0,"c4":0},{"t":1.4,"c1":3,"c2":0,"c3":0,"c4":0},{"t":1.42,"c1":4,"c2":0,"c3":0,"c4":0},{"t":1.44,"c1":5,"c2":0,"c3":0,"c4":0},{"t":1.46,"c1":2,"c2":0,"c3":0,"c4":0},{"t":1.48,"c1":5,"c2":0,"c3":0,"c4":0},{"t":1.5,"c1":5,"c2":0,"c3":0,"c4":0},{"t":1.52,"c1":2,"c2":0,"c3":0,"c4":0},{"t":1.54,"c1":3,"c2":0,"c3":0,"c4":0},{"t":1.56,"c1":1,"c2":0,"c3":0,"c4":0},{"t":1.58,"c1":3,"c2":0,"c3":0,"c4":0},{"t":1.6,"c1":2,"c2":0,"c3":0,"c4":0},{"t":1.62,"c1":2,"c2":0,"c3":0,"c4":0},{"t":1.64,"c1":3,"c2":0,"c3":0,"c4":0},{"t":1.66,"c1":3,"c2":0,"c3":0,"c4":0},{"t":1.68,"c1":3,"c2":0,"c3":0,"c4":0},{"t":1.7,"c1":3,"c2":0,"c3":0,"c4":0},{"t":1.72,"c1":2,"c2":0,"c3":0,"c4":0},{"t":1.74,"c1":3,"c2":0,"c3":0,"c4":0},{"t":1.76,"c1":2,"c2":0,"c3":0,"c4":0},{"t":1.78,"c1":1,"c2":0,"c3":0,"c4":0},{"t":1.8,"c1":2,"c2":0,"c3":0,"c4":0},{"t":1.82,"c1":1,"c2":0,"c3":0,"c4":0},{"t":1.84,"c1":1,"c2":0,"c3":0,"c4":0},{"t":1.86,"c1":1,"c2":0,"c3":0,"c4":0},{"t":1.88,"c1":0,"c2":0,"c3":0,"c4":0},{"t":1.9,"c1":2,"c2":0,"c3":0,"c4":0},{"t":1.92,"c1":2,"c2":0,"c3":0,"c4":0},{"t":1.94,"c1":1,"c2":0,"c3":0,"c4":0},{"t":1.96,"c1":2,"c2":0,"c3":0,"c4":0},{"t":1.98,"c1":2,"c2":0,"c3":0,"c4":0},{"t":2.0,"c1":1,"c2":0,"c3":0,"c4":0}
],
"b3":[
{"t":0,"c1":0,"c2":0,"c3":0,"c4":0},{"t":0.02,"c1":0,"c2":1,"c3":0,"c4":0},{"t":0.04,"c1":1,"c2":8,"c3":2,"c4":1},{"t":0.06,"c1":10,"c2":11,"c3":7,"c4":7},{"t":0.08,"c1":40,"c2":30,"c3":14,"c4":19},{"t":0.1,"c1":98,"c2":53,"c3":22,"c4":37},{"t":0.12,"c1":122,"c2":62,"c3":34,"c4":48},{"t":0.14,"c1":152,"c2":74,"c3":32,"c4":64},{"t":0.16,"c1":163,"c2":76,"c3":31,"c4":65},{"t":0.18,"c1":171,"c2":74,"c3":31,"c4":67},{"t":0.2,"c1":157,"c2":70,"c3":31,"c4":68},{"t":0.22,"c1":145,"c2":74,"c3":32,"c4":65},{"t":0.24,"c1":116,"c2":65,"c3":40,"c4":96},{"t":0.26,"c1":112,"c2":64,"c3":30,"c4":107},{"t":0.28,"c1":97,"c2":56,"c3":48,"c4":101},{"t":0.3,"c1":104,"c2":70,"c3":50,"c4":131},{"t":0.32,"c1":146,"c2":78,"c3":62,"c4":144},{"t":0.34,"c1":151,"c2":96,"c3":57,"c4":139},{"t":0.36,"c1":164,"c2":88,"c3":81,"c4":156},{"t":0.38,"c1":152,"c2":104,"c3":68,"c4":174},{"t":0.4,"c1":193,"c2":127,"c3":81,"c4":136},{"t":0.42,"c1":195,"c2":84,"c3":65,"c4":141},{"t":0.44,"c1":206,"c2":88,"c3":88,"c4":130},{"t":0.46,"c1":184,"c2":96,"c3":50,"c4":134},{"t":0.48,"c1":166,"c2":88,"c3":44,"c4":88},{"t":0.5,"c1":164,"c2":84,"c3":43,"c4":94},{"t":0.52,"c1":180,"c2":77,"c3":53,"c4":82},{"t":0.54,"c1":141,"c2":67,"c3":37,"c4":76},{"t":0.56,"c1":117,"c2":53,"c3":40,"c4":65},{"t":0.58,"c1":96,"c2":41,"c3":25,"c4":46},{"t":0.6,"c1":111,"c2":40,"c3":16,"c4":34},{"t":0.62,"c1":76,"c2":43,"c3":17,"c4":34},{"t":0.64,"c1":78,"c2":36,"c3":11,"c4":27},{"t":0.66,"c1":75,"c2":26,"c3":10,"c4":12},{"t":0.68,"c1":60,"c2":19,"c3":10,"c4":20},{"t":0.7,"c1":53,"c2":22,"c3":6,"c4":20},{"t":0.72,"c1":69,"c2":16,"c3":3,"c4":27},{"t":0.74,"c1":60,"c2":22,"c3":3,"c4":12},{"t":0.76,"c1":48,"c2":12,"c3":5,"c4":18},{"t":0.78,"c1":36,"c2":14,"c3":2,"c4":12},{"t":0.8,"c1":34,"c2":10,"c3":3,"c4":6},{"t":0.82,"c1":39,"c2":15,"c3":1,"c4":6},{"t":0.84,"c1":40,"c2":8,"c3":3,"c4":9},{"t":0.86,"c1":30,"c2":10,"c3":2,"c4":10},{"t":0.88,"c1":23,"c2":9,"c3":1,"c4":13},{"t":0.9,"c1":31,"c2":8,"c3":3,"c4":9},{"t":0.92,"c1":40,"c2":7,"c3":1,"c4":7},{"t":0.94,"c1":20,"c2":9,"c3":2,"c4":15},{"t":0.96,"c1":27,"c2":6,"c3":1,"c4":5},{"t":0.98,"c1":19,"c2":8,"c3":0,"c4":4},{"t":1.0,"c1":10,"c2":7,"c3":2,"c4":9},{"t":1.02,"c1":14,"c2":5,"c3":0,"c4":5},{"t":1.04,"c1":14,"c2":6,"c3":1,"c4":3},{"t":1.06,"c1":11,"c2":4,"c3":0,"c4":5},{"t":1.08,"c1":12,"c2":5,"c3":1,"c4":2},{"t":1.1,"c1":14,"c2":4,"c3":0,"c4":3},{"t":1.12,"c1":11,"c2":5,"c3":0,"c4":2},{"t":1.14,"c1":13,"c2":3,"c3":1,"c4":1},{"t":1.16,"c1":12,"c2":4,"c3":0,"c4":2},{"t":1.18,"c1":14,"c2":3,"c3":0,"c4":1},{"t":1.2,"c1":11,"c2":4,"c3":1,"c4":2},{"t":1.22,"c1":12,"c2":3,"c3":0,"c4":0},{"t":1.24,"c1":10,"c2":3,"c3":0,"c4":1},{"t":1.26,"c1":12,"c2":4,"c3":0,"c4":1},{"t":1.28,"c1":9,"c2":3,"c3":1,"c4":0},{"t":1.3,"c1":11,"c2":2,"c3":0,"c4":1},{"t":1.32,"c1":10,"c2":3,"c3":0,"c4":2},{"t":1.34,"c1":9,"c2":2,"c3":0,"c4":0},{"t":1.36,"c1":11,"c2":3,"c3":0,"c4":1},{"t":1.38,"c1":10,"c2":2,"c3":0,"c4":1},{"t":1.4,"c1":8,"c2":3,"c3":0,"c4":0},{"t":1.42,"c1":10,"c2":2,"c3":0,"c4":1},{"t":1.44,"c1":8,"c2":3,"c3":0,"c4":1},{"t":1.46,"c1":9,"c2":4,"c3":0,"c4":2},{"t":1.48,"c1":10,"c2":3,"c3":0,"c4":1},{"t":1.5,"c1":7,"c2":2,"c3":0,"c4":1},{"t":1.52,"c1":9,"c2":3,"c3":0,"c4":2},{"t":1.54,"c1":7,"c2":4,"c3":0,"c4":3},{"t":1.56,"c1":6,"c2":3,"c3":0,"c4":2},{"t":1.58,"c1":8,"c2":5,"c3":0,"c4":4},{"t":1.6,"c1":6,"c2":4,"c3":0,"c4":3},{"t":1.62,"c1":7,"c2":5,"c3":0,"c4":2},{"t":1.64,"c1":5,"c2":4,"c3":0,"c4":3},{"t":1.66,"c1":6,"c2":3,"c3":0,"c4":2},{"t":1.68,"c1":5,"c2":4,"c3":0,"c4":4},{"t":1.7,"c1":6,"c2":3,"c3":0,"c4":2},{"t":1.72,"c1":5,"c2":3,"c3":0,"c4":3},{"t":1.74,"c1":6,"c2":4,"c3":0,"c4":2},{"t":1.76,"c1":5,"c2":3,"c3":0,"c4":1},{"t":1.78,"c1":6,"c2":2,"c3":0,"c4":2},{"t":1.8,"c1":5,"c2":3,"c3":0,"c4":1},{"t":1.82,"c1":4,"c2":2,"c3":0,"c4":1},{"t":1.84,"c1":5,"c2":3,"c3":0,"c4":2},{"t":1.86,"c1":4,"c2":2,"c3":0,"c4":1},{"t":1.88,"c1":6,"c2":3,"c3":0,"c4":1},{"t":1.9,"c1":4,"c2":2,"c3":0,"c4":0},{"t":1.92,"c1":6,"c2":3,"c3":0,"c4":1},{"t":1.94,"c1":4,"c2":2,"c3":0,"c4":0},{"t":1.96,"c1":5,"c2":3,"c3":0,"c4":1},{"t":1.98,"c1":4,"c2":2,"c3":0,"c4":0},{"t":2.0,"c1":5,"c2":2,"c3":0,"c4":1}
],
"b4":[
{"t":0,"c1":0,"c2":0,"c3":0,"c4":0},{"t":0.02,"c1":0,"c2":2,"c3":1,"c4":1},{"t":0.04,"c1":2,"c2":5,"c3":3,"c4":2},{"t":0.06,"c1":19,"c2":14,"c3":10,"c4":4},{"t":0.08,"c1":91,"c2":36,"c3":9,"c4":6},{"t":0.1,"c1":137,"c2":61,"c3":10,"c4":8},{"t":0.12,"c1":198,"c2":78,"c3":23,"c4":10},{"t":0.14,"c1":240,"c2":66,"c3":22,"c4":10},{"t":0.16,"c1":260,"c2":64,"c3":8,"c4":7},{"t":0.18,"c1":238,"c2":48,"c3":9,"c4":6},{"t":0.2,"c1":192,"c2":41,"c3":8,"c4":5},{"t":0.22,"c1":178,"c2":40,"c3":8,"c4":4},{"t":0.24,"c1":142,"c2":29,"c3":7,"c4":3},{"t":0.26,"c1":115,"c2":20,"c3":8,"c4":3},{"t":0.28,"c1":92,"c2":20,"c3":6,"c4":3},{"t":0.3,"c1":87,"c2":14,"c3":5,"c4":2},{"t":0.32,"c1":89,"c2":14,"c3":5,"c4":2},{"t":0.34,"c1":69,"c2":16,"c3":4,"c4":2},{"t":0.36,"c1":76,"c2":18,"c3":3,"c4":2},{"t":0.38,"c1":66,"c2":10,"c3":3,"c4":2},{"t":0.4,"c1":69,"c2":13,"c3":3,"c4":1},{"t":0.42,"c1":74,"c2":10,"c3":2,"c4":2},{"t":0.44,"c1":64,"c2":13,"c3":2,"c4":1},{"t":0.46,"c1":59,"c2":14,"c3":2,"c4":1},{"t":0.48,"c1":71,"c2":10,"c3":2,"c4":1},{"t":0.5,"c1":54,"c2":12,"c3":1,"c4":1},{"t":0.52,"c1":50,"c2":8,"c3":1,"c4":1},{"t":0.54,"c1":52,"c2":9,"c3":1,"c4":1},{"t":0.56,"c1":46,"c2":6,"c3":1,"c4":1},{"t":0.58,"c1":43,"c2":7,"c3":1,"c4":1},{"t":0.6,"c1":33,"c2":5,"c3":1,"c4":1},{"t":0.62,"c1":26,"c2":6,"c3":0,"c4":1},{"t":0.64,"c1":19,"c2":5,"c3":0,"c4":1},{"t":0.66,"c1":18,"c2":4,"c3":0,"c4":1},{"t":0.68,"c1":23,"c2":5,"c3":0,"c4":0},{"t":0.7,"c1":17,"c2":4,"c3":0,"c4":0},{"t":0.72,"c1":12,"c2":5,"c3":0,"c4":0},{"t":0.74,"c1":16,"c2":4,"c3":0,"c4":0},{"t":0.76,"c1":15,"c2":4,"c3":0,"c4":0},{"t":0.78,"c1":14,"c2":3,"c3":0,"c4":0},{"t":0.8,"c1":13,"c2":4,"c3":0,"c4":0},{"t":0.82,"c1":14,"c2":3,"c3":0,"c4":0},{"t":0.84,"c1":13,"c2":3,"c3":0,"c4":0},{"t":0.86,"c1":15,"c2":3,"c3":0,"c4":0},{"t":0.88,"c1":11,"c2":3,"c3":0,"c4":0},{"t":0.9,"c1":13,"c2":3,"c3":0,"c4":0},{"t":0.92,"c1":11,"c2":3,"c3":0,"c4":0},{"t":0.94,"c1":11,"c2":3,"c3":0,"c4":0},{"t":0.96,"c1":7,"c2":3,"c3":0,"c4":0},{"t":0.98,"c1":6,"c2":3,"c3":0,"c4":0},{"t":1.0,"c1":6,"c2":3,"c3":0,"c4":0},{"t":1.02,"c1":5,"c2":3,"c3":0,"c4":0},{"t":1.04,"c1":6,"c2":3,"c3":0,"c4":0},{"t":1.06,"c1":7,"c2":3,"c3":0,"c4":0},{"t":1.08,"c1":6,"c2":3,"c3":0,"c4":0},{"t":1.1,"c1":7,"c2":3,"c3":0,"c4":0},{"t":1.12,"c1":4,"c2":3,"c3":0,"c4":0},{"t":1.14,"c1":3,"c2":3,"c3":0,"c4":0},{"t":1.16,"c1":4,"c2":3,"c3":0,"c4":0},{"t":1.18,"c1":4,"c2":3,"c3":0,"c4":0},{"t":1.2,"c1":3,"c2":3,"c3":0,"c4":0},{"t":1.22,"c1":4,"c2":3,"c3":0,"c4":0},{"t":1.24,"c1":3,"c2":3,"c3":0,"c4":0},{"t":1.26,"c1":4,"c2":3,"c3":0,"c4":0},{"t":1.28,"c1":3,"c2":3,"c3":0,"c4":0},{"t":1.3,"c1":3,"c2":3,"c3":0,"c4":0},{"t":1.32,"c1":4,"c2":3,"c3":0,"c4":0},{"t":1.34,"c1":3,"c2":3,"c3":0,"c4":0},{"t":1.36,"c1":6,"c2":3,"c3":0,"c4":0},{"t":1.38,"c1":6,"c2":3,"c3":0,"c4":0},{"t":1.4,"c1":5,"c2":3,"c3":0,"c4":0},{"t":1.42,"c1":3,"c2":3,"c3":0,"c4":0},{"t":1.44,"c1":4,"c2":3,"c3":0,"c4":0},{"t":1.46,"c1":3,"c2":3,"c3":0,"c4":0},{"t":1.48,"c1":4,"c2":3,"c3":0,"c4":0},{"t":1.5,"c1":3,"c2":3,"c3":0,"c4":0},{"t":1.52,"c1":5,"c2":3,"c3":0,"c4":0},{"t":1.54,"c1":5,"c2":3,"c3":0,"c4":0},{"t":1.56,"c1":7,"c2":3,"c3":0,"c4":0},{"t":1.58,"c1":3,"c2":3,"c3":0,"c4":0},{"t":1.6,"c1":3,"c2":3,"c3":0,"c4":0},{"t":1.62,"c1":3,"c2":3,"c3":0,"c4":0},{"t":1.64,"c1":3,"c2":3,"c3":0,"c4":0},{"t":1.66,"c1":3,"c2":3,"c3":0,"c4":0},{"t":1.68,"c1":3,"c2":3,"c3":0,"c4":0},{"t":1.7,"c1":3,"c2":3,"c3":0,"c4":0},{"t":1.72,"c1":3,"c2":3,"c3":0,"c4":0},{"t":1.74,"c1":4,"c2":3,"c3":0,"c4":0},{"t":1.76,"c1":3,"c2":3,"c3":0,"c4":0},{"t":1.78,"c1":5,"c2":3,"c3":0,"c4":0},{"t":1.8,"c1":4,"c2":3,"c3":0,"c4":0},{"t":1.82,"c1":4,"c2":3,"c3":0,"c4":0},{"t":1.84,"c1":5,"c2":3,"c3":0,"c4":0},{"t":1.86,"c1":4,"c2":3,"c3":0,"c4":0},{"t":1.88,"c1":6,"c2":3,"c3":0,"c4":0},{"t":1.9,"c1":3,"c2":3,"c3":0,"c4":0},{"t":1.92,"c1":3,"c2":3,"c3":0,"c4":0},{"t":1.94,"c1":3,"c2":3,"c3":0,"c4":0},{"t":1.96,"c1":3,"c2":3,"c3":0,"c4":0},{"t":1.98,"c1":3,"c2":3,"c3":0,"c4":0},{"t":2.0,"c1":3,"c2":3,"c3":0,"c4":0}
]
},
"bounds":"flush","align":"none","spacing":615,
"resolve":{"scale":{"color":"independent","fill":"independent","stroke":"independent","shape":"independent","size":"independent"}},
"hconcat":[
{"bounds":"flush","align":"none","spacing":69,"resolve":{"scale":{"color":"independent"}},"vconcat":[
 {"width":1,"height":1,"view":{"stroke":null},"data":{"values":[{"k":1}]},"layer":[
  {"mark":{"type":"text","font":"Liberation Sans","fontSize":28,"fontWeight":"bold","align":"left","baseline":"alphabetic","clip":false,"color":"#000"},"encoding":{"x":{"datum":-45,"type":"quantitative","scale":{"domain":[0,1],"nice":false},"axis":null},"y":{"datum":-29,"type":"quantitative","scale":{"domain":[0,1],"nice":false},"axis":null},"text":{"value":"(a)"}}},
  {"mark":{"type":"text","font":"Liberation Sans","fontSize":28,"fontWeight":"bold","align":"left","baseline":"alphabetic","clip":false,"color":"#000"},"encoding":{"x":{"datum":547,"type":"quantitative","scale":{"domain":[0,1],"nice":false},"axis":null},"y":{"datum":39,"type":"quantitative","scale":{"domain":[0,1],"nice":false},"axis":null},"text":{"value":"(b)"}}}
 ]},
 {"bounds":"flush","align":"none","spacing":132,"resolve":{"scale":{"color":"independent"}},"hconcat":[
  {"width":168,"height":429,"view":{"fill":"#352a87"},"title":{"text":"C+S","dx":-4,"offset":-3},"resolve":{"axis":{"x":"independent","y":"independent"}},"layer":[
   {"data":{"values":[{"k":"frame"}]},"mark":{"type":"rect","fill":null,"stroke":"#e2e2e2","strokeWidth":1.5,"clip":false},"encoding":{"x":{"datum":-3.1,"type":"quantitative","scale":{"domain":[0,10],"nice":false},"axis":{"orient":"top","values":[0,5,10],"labels":false,"title":null}},"x2":{"datum":13.69},"y":{"datum":817,"type":"quantitative","scale":{"domain":[0,800],"nice":false},"axis":{"orient":"right","values":[0,100,200,300,400,500,600,700,800],"labels":false,"title":null}},"y2":{"datum":-93.5}}},
   {"data":{"name":"a1"},"mark":{"type":"rect","width":2.4,"height":2.6},"encoding":{"x":{"field":"t","type":"quantitative","scale":{"domain":[0,10],"nice":false},"axis":{"values":[0,5,10],"title":"Time Delay [ns]"}},"y":{"field":"a","type":"quantitative","scale":{"domain":[0,800],"nice":false},"axis":{"values":[0,100,200,300,400,500,600,700,800],"title":"Amplitude [mV]"}},"color":{"field":"n","type":"quantitative","scale":{"type":"log","domain":[0.1,0.282,0.421,0.457,1,2.09,3.89,6.76,10.06,18.7,33.9,57.5,100],"range":["#352a87","#3a35a8","#4048c8","#0a6ae0","#0a82d8","#0a9cc0","#00a5a0","#08b070","#70c060","#c8b418","#ffa528","#ffc208","#ffe600"]},"legend":{"type":"gradient","orient":"none","legendX":185,"legendY":0,"title":null,"gradientLength":429,"gradientThickness":16,"gradientStrokeColor":"#888","values":[0.1,1,10,100],"labelExpr":"datum.value<0.5?'10⁻¹':datum.value<5?'10⁰':datum.value<50?'10¹':'10²'","labelFontSize":14,"labelColor":"#555","labelBaseline":"middle"}}}}
  ]},
  {"width":171,"height":432,"view":{"fill":"#352a87"},"title":{"text":"C+F+S","offset":-3},"resolve":{"axis":{"x":"independent","y":"independent"}},"layer":[
   {"data":{"values":[{"k":"frame"}]},"mark":{"type":"rect","fill":null,"stroke":"#e2e2e2","strokeWidth":1.5,"clip":false},"encoding":{"x":{"datum":-2.92,"type":"quantitative","scale":{"domain":[0,10],"nice":false},"axis":{"orient":"top","values":[0,5,10],"labels":false,"title":null}},"x2":{"datum":13.45},"y":{"datum":815,"type":"quantitative","scale":{"domain":[0,800],"nice":false},"axis":{"orient":"right","values":[0,100,200,300,400,500,600,700,800],"labels":false,"title":null}},"y2":{"datum":-87}}},
   {"data":{"name":"a2"},"mark":{"type":"rect","width":2.4,"height":2.6},"encoding":{"x":{"field":"t","type":"quantitative","scale":{"domain":[0,10],"nice":false},"axis":{"values":[0,5,10],"title":"Time Delay [ns]"}},"y":{"field":"a","type":"quantitative","scale":{"domain":[0,800],"nice":false},"axis":{"values":[0,100,200,300,400,500,600,700,800],"title":"Amplitude [mV]","titlePadding":4}},"color":{"field":"n","type":"quantitative","scale":{"type":"log","domain":[0.1,0.282,0.421,0.457,1,2.09,3.89,6.76,10.06,18.7,33.9,57.5,100],"range":["#352a87","#3a35a8","#4048c8","#0a6ae0","#0a82d8","#0a9cc0","#00a5a0","#08b070","#70c060","#c8b418","#ffa528","#ffc208","#ffe600"]},"legend":{"type":"gradient","orient":"none","legendX":188,"legendY":0,"title":null,"gradientLength":432,"gradientThickness":17,"gradientStrokeColor":"#888","values":[0.1,1,10,100],"labelExpr":"datum.value<0.5?'10⁻¹':datum.value<5?'10⁰':datum.value<50?'10¹':'10²'","labelFontSize":14,"labelColor":"#555","labelBaseline":"middle"}}}}
  ]}
 ]}
]},
{"bounds":"flush","align":"none","spacing":341,"resolve":{"scale":{"fill":"independent","stroke":"independent","shape":"independent","size":"independent"}},"vconcat":[
 {"bounds":"flush","align":"none","spacing":57,"resolve":{"scale":{"fill":"independent","stroke":"independent","shape":"independent","size":"independent"}},"hconcat":[
  {"width":322,"height":242,"title":{"text":"bSiPM","dx":-13,"offset":5},"resolve":{"axis":{"x":"independent","y":"independent"}},"layer":[
   {"data":{"values":[{"k":"frame"}]},"mark":{"type":"rect","fill":null,"stroke":"#e2e2e2","strokeWidth":1.5,"clip":false},"encoding":{"x":{"datum":-0.329,"type":"quantitative","scale":{"domain":[0,2],"nice":false},"axis":{"orient":"top","values":[0,0.5,1,1.5,2],"labels":false,"title":null}},"x2":{"datum":2.019},"y":{"datum":823,"type":"quantitative","scale":{"domain":[0,800],"nice":false},"axis":{"orient":"right","values":[0,200,400,600,800],"labels":false,"title":null}},"y2":{"datum":-162}}},
   {"data":{"name":"b1"},"transform":[{"fold":["c1","c2","c3","c4"],"as":["series","count"]}],"mark":{"type":"point","opacity":1,"strokeWidth":2.5},"encoding":{"order":{"field":"series"},"x":{"field":"t","type":"quantitative","scale":{"domain":[0,2],"nice":false},"axis":{"values":[0,0.5,1,1.5,2],"format":"~g","title":"Time Delay [ns]"}},"y":{"field":"count","type":"quantitative","scale":{"domain":[0,800],"nice":false},"axis":{"values":[0,200,400,600,800],"title":"Counts"}},"stroke":{"field":"series","type":"nominal","scale":{"domain":["c1","c2","c3","c4"],"range":["#ff0000","#ffb020","#00a830","#2440d0"]},"legend":{"orient":"none","legendX":171,"legendY":10,"title":null,"fillColor":"white","strokeColor":"#888","padding":5,"rowPadding":4.7,"symbolOffset":12,"labelOffset":18,"labelExpr":"datum.label=='c4'?'>3 Crosstalk':slice(datum.label,1)+' Crosstalk'"}},"fill":{"field":"series","type":"nominal","scale":{"domain":["c1","c2","c3","c4"],"range":["#ffe0e0","#ffb020","#00a830","#2440d0"]},"legend":{"orient":"none","legendX":171,"legendY":10,"title":null,"fillColor":"white","strokeColor":"#888","padding":5,"rowPadding":4.7,"symbolOffset":12,"labelOffset":18,"labelExpr":"datum.label=='c4'?'>3 Crosstalk':slice(datum.label,1)+' Crosstalk'"}},"shape":{"field":"series","type":"nominal","scale":{"domain":["c1","c2","c3","c4"],"range":["circle","triangle-up","triangle-down","square"]},"legend":{"orient":"none","legendX":171,"legendY":10,"title":null,"fillColor":"white","strokeColor":"#888","padding":5,"rowPadding":4.7,"symbolOffset":12,"labelOffset":18,"labelExpr":"datum.label=='c4'?'>3 Crosstalk':slice(datum.label,1)+' Crosstalk'"}},"size":{"field":"series","type":"nominal","scale":{"domain":["c1","c2","c3","c4"],"range":[26,40,40,14]},"legend":{"orient":"none","legendX":171,"legendY":10,"title":null,"fillColor":"white","strokeColor":"#888","padding":5,"rowPadding":4.7,"symbolOffset":12,"labelOffset":18,"labelExpr":"datum.label=='c4'?'>3 Crosstalk':slice(datum.label,1)+' Crosstalk'"}}}}
  ]},
  {"width":323,"height":242,"title":{"text":"F+S","dx":-1,"offset":5},"resolve":{"axis":{"x":"independent","y":"independent"}},"layer":[
   {"data":{"values":[{"k":"frame"}]},"mark":{"type":"rect","fill":null,"stroke":"#e2e2e2","strokeWidth":1.5,"clip":false},"encoding":{"x":{"datum":-0.279,"type":"quantitative","scale":{"domain":[0,2],"nice":false},"axis":{"orient":"top","values":[0,0.5,1,1.5,2],"labels":false,"title":null}},"x2":{"datum":2.037},"y":{"datum":82.3,"type":"quantitative","scale":{"domain":[0,80],"nice":false},"axis":{"orient":"right","values":[0,20,40,60,80],"labels":false,"title":null}},"y2":{"datum":-16.2}}},
   {"data":{"name":"b2"},"transform":[{"fold":["c1","c2","c3","c4"],"as":["series","count"]}],"mark":{"type":"point","opacity":1,"strokeWidth":2.5},"encoding":{"order":{"field":"series"},"x":{"field":"t","type":"quantitative","scale":{"domain":[0,2],"nice":false},"axis":{"values":[0,0.5,1,1.5,2],"format":"~g","title":"Time Delay [ns]"}},"y":{"field":"count","type":"quantitative","scale":{"domain":[0,80],"nice":false},"axis":{"values":[0,20,40,60,80],"title":"Counts","titlePadding":5}},"stroke":{"field":"series","type":"nominal","scale":{"domain":["c1","c2","c3","c4"],"range":["#ff0000","#ffb020","#00a830","#2440d0"]},"legend":{"orient":"none","legendX":174,"legendY":10,"title":null,"fillColor":"white","strokeColor":"#888","padding":5,"rowPadding":4.7,"symbolOffset":12,"labelOffset":18,"labelExpr":"datum.label=='c4'?'>3 Crosstalk':slice(datum.label,1)+' Crosstalk'"}},"fill":{"field":"series","type":"nominal","scale":{"domain":["c1","c2","c3","c4"],"range":["#ffe0e0","#ffb020","#00a830","#2440d0"]},"legend":{"orient":"none","legendX":174,"legendY":10,"title":null,"fillColor":"white","strokeColor":"#888","padding":5,"rowPadding":4.7,"symbolOffset":12,"labelOffset":18,"labelExpr":"datum.label=='c4'?'>3 Crosstalk':slice(datum.label,1)+' Crosstalk'"}},"shape":{"field":"series","type":"nominal","scale":{"domain":["c1","c2","c3","c4"],"range":["circle","triangle-up","triangle-down","square"]},"legend":{"orient":"none","legendX":174,"legendY":10,"title":null,"fillColor":"white","strokeColor":"#888","padding":5,"rowPadding":4.7,"symbolOffset":12,"labelOffset":18,"labelExpr":"datum.label=='c4'?'>3 Crosstalk':slice(datum.label,1)+' Crosstalk'"}},"size":{"field":"series","type":"nominal","scale":{"domain":["c1","c2","c3","c4"],"range":[26,40,40,14]},"legend":{"orient":"none","legendX":174,"legendY":10,"title":null,"fillColor":"white","strokeColor":"#888","padding":5,"rowPadding":4.7,"symbolOffset":12,"labelOffset":18,"labelExpr":"datum.label=='c4'?'>3 Crosstalk':slice(datum.label,1)+' Crosstalk'"}}}}
  ]}
 ]},
 {"bounds":"flush","align":"none","spacing":61,"resolve":{"scale":{"fill":"independent","stroke":"independent","shape":"independent","size":"independent"}},"hconcat":[
  {"width":322,"height":242,"title":{"text":"C+S","dx":-5,"offset":2},"resolve":{"axis":{"x":"independent","y":"independent"}},"layer":[
   {"data":{"values":[{"k":"frame"}]},"mark":{"type":"rect","fill":null,"stroke":"#e2e2e2","strokeWidth":1.5,"clip":false},"encoding":{"x":{"datum":-0.329,"type":"quantitative","scale":{"domain":[0,2],"nice":false},"axis":{"orient":"top","values":[0,0.5,1,1.5,2],"labels":false,"title":null}},"x2":{"datum":2.019},"y":{"datum":256,"type":"quantitative","scale":{"domain":[0,250],"nice":false},"axis":{"orient":"right","values":[0,50,100,150,200,250],"labels":false,"title":null}},"y2":{"datum":-52}}},
   {"data":{"name":"b3"},"transform":[{"fold":["c1","c2","c3","c4"],"as":["series","count"]}],"mark":{"type":"point","opacity":1,"strokeWidth":2.5},"encoding":{"order":{"field":"series"},"x":{"field":"t","type":"quantitative","scale":{"domain":[0,2],"nice":false},"axis":{"values":[0,0.5,1,1.5,2],"format":"~g","title":"Time Delay [ns]"}},"y":{"field":"count","type":"quantitative","scale":{"domain":[0,250],"nice":false},"axis":{"values":[0,50,100,150,200,250],"title":"Counts"}},"stroke":{"field":"series","type":"nominal","scale":{"domain":["c1","c2","c3","c4"],"range":["#ff0000","#ffb020","#00a830","#2440d0"]},"legend":{"orient":"none","legendX":170,"legendY":11,"title":null,"fillColor":"white","strokeColor":"#888","padding":5,"rowPadding":4.7,"symbolOffset":12,"labelOffset":18,"labelExpr":"datum.label=='c4'?'>3 Crosstalk':slice(datum.label,1)+' Crosstalk'"}},"fill":{"field":"series","type":"nominal","scale":{"domain":["c1","c2","c3","c4"],"range":["#ffe0e0","#ffb020","#00a830","#2440d0"]},"legend":{"orient":"none","legendX":170,"legendY":11,"title":null,"fillColor":"white","strokeColor":"#888","padding":5,"rowPadding":4.7,"symbolOffset":12,"labelOffset":18,"labelExpr":"datum.label=='c4'?'>3 Crosstalk':slice(datum.label,1)+' Crosstalk'"}},"shape":{"field":"series","type":"nominal","scale":{"domain":["c1","c2","c3","c4"],"range":["circle","triangle-up","triangle-down","square"]},"legend":{"orient":"none","legendX":170,"legendY":11,"title":null,"fillColor":"white","strokeColor":"#888","padding":5,"rowPadding":4.7,"symbolOffset":12,"labelOffset":18,"labelExpr":"datum.label=='c4'?'>3 Crosstalk':slice(datum.label,1)+' Crosstalk'"}},"size":{"field":"series","type":"nominal","scale":{"domain":["c1","c2","c3","c4"],"range":[26,40,40,14]},"legend":{"orient":"none","legendX":170,"legendY":11,"title":null,"fillColor":"white","strokeColor":"#888","padding":5,"rowPadding":4.7,"symbolOffset":12,"labelOffset":18,"labelExpr":"datum.label=='c4'?'>3 Crosstalk':slice(datum.label,1)+' Crosstalk'"}}}}
  ]},
  {"width":322,"height":242,"title":{"text":"C+F+S","dx":-6,"offset":2},"resolve":{"axis":{"x":"independent","y":"independent"}},"layer":[
   {"data":{"values":[{"k":"frame"}]},"mark":{"type":"rect","fill":null,"stroke":"#e2e2e2","strokeWidth":1.5,"clip":false},"encoding":{"x":{"datum":-0.323,"type":"quantitative","scale":{"domain":[0,2],"nice":false},"axis":{"orient":"top","values":[0,0.5,1,1.5,2],"labels":false,"title":null}},"x2":{"datum":2.02},"y":{"datum":307,"type":"quantitative","scale":{"domain":[0,300],"nice":false},"axis":{"orient":"right","values":[0,50,100,150,200,250,300],"labels":false,"title":null}},"y2":{"datum":-62.5}}},
   {"data":{"name":"b4"},"transform":[{"fold":["c1","c2","c3","c4"],"as":["series","count"]}],"mark":{"type":"point","opacity":1,"strokeWidth":2.5},"encoding":{"order":{"field":"series"},"x":{"field":"t","type":"quantitative","scale":{"domain":[0,2],"nice":false},"axis":{"values":[0,0.5,1,1.5,2],"format":"~g","title":"Time Delay [ns]"}},"y":{"field":"count","type":"quantitative","scale":{"domain":[0,300],"nice":false},"axis":{"values":[0,50,100,150,200,250,300],"title":"Counts","titlePadding":4}},"stroke":{"field":"series","type":"nominal","scale":{"domain":["c1","c2","c3","c4"],"range":["#ff0000","#ffb020","#00a830","#2440d0"]},"legend":{"orient":"none","legendX":172,"legendY":11,"title":null,"fillColor":"white","strokeColor":"#888","padding":5,"rowPadding":4.7,"symbolOffset":12,"labelOffset":18,"labelExpr":"datum.label=='c4'?'>3 Crosstalk':slice(datum.label,1)+' Crosstalk'"}},"fill":{"field":"series","type":"nominal","scale":{"domain":["c1","c2","c3","c4"],"range":["#ffe0e0","#ffb020","#00a830","#2440d0"]},"legend":{"orient":"none","legendX":172,"legendY":11,"title":null,"fillColor":"white","strokeColor":"#888","padding":5,"rowPadding":4.7,"symbolOffset":12,"labelOffset":18,"labelExpr":"datum.label=='c4'?'>3 Crosstalk':slice(datum.label,1)+' Crosstalk'"}},"shape":{"field":"series","type":"nominal","scale":{"domain":["c1","c2","c3","c4"],"range":["circle","triangle-up","triangle-down","square"]},"legend":{"orient":"none","legendX":172,"legendY":11,"title":null,"fillColor":"white","strokeColor":"#888","padding":5,"rowPadding":4.7,"symbolOffset":12,"labelOffset":18,"labelExpr":"datum.label=='c4'?'>3 Crosstalk':slice(datum.label,1)+' Crosstalk'"}},"size":{"field":"series","type":"nominal","scale":{"domain":["c1","c2","c3","c4"],"range":[26,40,40,14]},"legend":{"orient":"none","legendX":172,"legendY":11,"title":null,"fillColor":"white","strokeColor":"#888","padding":5,"rowPadding":4.7,"symbolOffset":12,"labelOffset":18,"labelExpr":"datum.label=='c4'?'>3 Crosstalk':slice(datum.label,1)+' Crosstalk'"}}}}
  ]}
 ]}
]}
]}
